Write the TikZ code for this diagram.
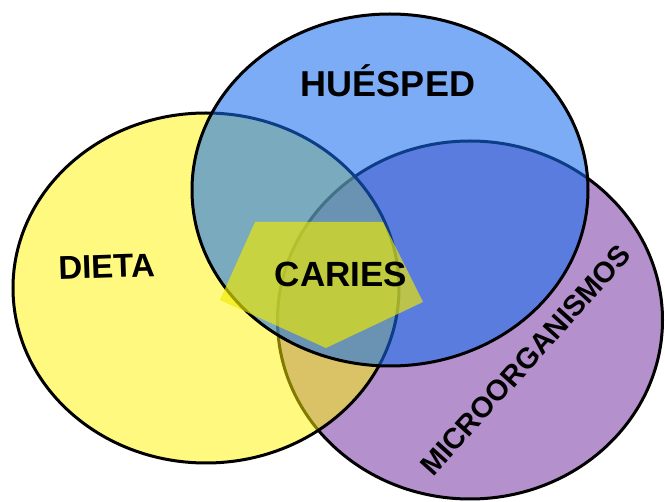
\documentclass[tikz,border=0pt]{standalone}
\usepackage{fontspec}
\setmainfont{Liberation Sans}
\usetikzlibrary{shapes.geometric}

\definecolor{dietacol}{RGB}{255,245,0}
\definecolor{huespedcol}{RGB}{22,109,237}
\definecolor{microcol}{RGB}{180,145,205}
\definecolor{cariescol}{RGB}{240,234,0}

\begin{document}
\begin{tikzpicture}[x=1pt,y=-1pt,
    circulo/.style={ellipse, draw=black, line width=3pt, inner sep=0pt},
    etiqueta/.style={font=\bfseries, text=black, anchor=base, inner sep=0pt}]
        \useasboundingbox (0,0) rectangle (665,502);

        % los tres factores
        \node[circulo, fill=microcol, minimum width=385pt, minimum height=358pt] (micro) at (470,320) {};
        \node[circulo, fill=dietacol, fill opacity=0.5, minimum width=386pt, minimum height=350pt] (dieta) at (206,288) {};
        \node[circulo, fill=huespedcol, fill opacity=0.57, minimum width=396pt, minimum height=352pt] (huesped) at (390,190) {};

        % zona central
        \fill[cariescol, opacity=0.65] (255,222) -- (383,222) -- (423,302) -- (326,348) -- (220,300) -- cycle;

        \node[etiqueta] (thuesped) at (388,97) {\fontsize{36}{40}\selectfont HUÉSPED};
        \node[etiqueta, rotate=2] (tdieta) at (107,278) {\fontsize{33}{38}\selectfont DIETA};
        \node[etiqueta] (tcaries) at (341,287) {\fontsize{35}{40}\selectfont CARIES};
        \node[etiqueta, rotate=48] (tmicro) at (533,367) {\fontsize{29}{34}\selectfont MICROORGANISMOS};
      \end{tikzpicture}
\end{document}
